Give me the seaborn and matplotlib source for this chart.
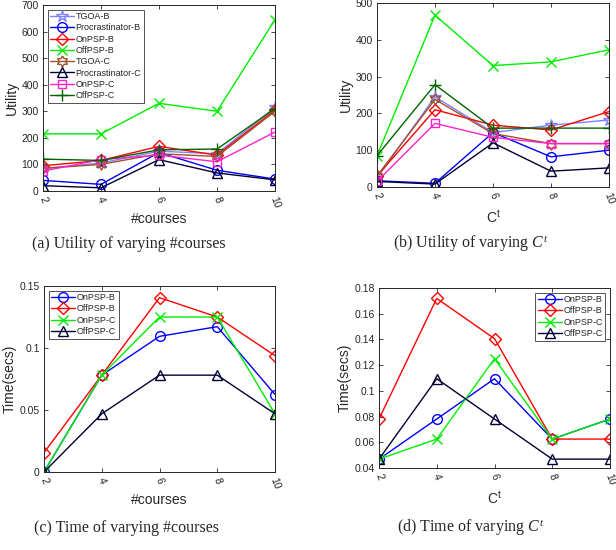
import matplotlib
matplotlib.use("Agg")
import matplotlib.pyplot as plt
from matplotlib.ticker import FixedLocator
import seaborn as sns

# x values
courses = [2, 4, 6, 8, 10]
ct_vals = [2, 4, 6, 8, 10]

# (a) utility vs #courses
util_a = {
    'TGOA-B': [85, 105, 150, 140, 315],
    'Procrastinator-B': [40, 25, 145, 78, 45],
    'OnPSP-B': [95, 115, 168, 135, 305],
    'OffPSP-B': [215, 215, 330, 300, 645],
    'TGOA-C': [85, 100, 140, 130, 300],
    'Procrastinator-C': [20, 12, 118, 68, 42],
    'OnPSP-C': [75, 118, 135, 110, 222],
    'OffPSP-C': [120, 115, 155, 158, 310],
}

# (b) utility vs C^t
util_b = {
    'TGOA-B': [25, 245, 148, 168, 182],
    'Procrastinator-B': [17, 10, 148, 82, 100],
    'OnPSP-B': [30, 210, 168, 155, 205],
    'OffPSP-B': [85, 467, 330, 340, 373],
    'TGOA-C': [30, 238, 145, 118, 118],
    'Procrastinator-C': [15, 8, 120, 43, 52],
    'OnPSP-C': [15, 173, 135, 118, 118],
    'OffPSP-C': [85, 278, 160, 160, 160],
}

# (c) time vs #courses
time_c = {
    'OnPSP-B': [0, 0.0781, 0.1094, 0.1172, 0.0625],
    'OffPSP-B': [0.0156, 0.0781, 0.1406, 0.125, 0.0938],
    'OnPSP-C': [0, 0.0781, 0.125, 0.125, 0.0469],
    'OffPSP-C': [0, 0.0469, 0.0781, 0.0781, 0.0469],
}

# (d) time vs C^t
time_d = {
    'OnPSP-B': [0.0469, 0.0781, 0.1094, 0.0625, 0.0781],
    'OffPSP-B': [0.0781, 0.1719, 0.1406, 0.0625, 0.0625],
    'OnPSP-C': [0.0469, 0.0625, 0.125, 0.0625, 0.0781],
    'OffPSP-C': [0.0469, 0.1094, 0.0781, 0.0469, 0.0469],
}

hexagram = [(0, 1), (0.29, 0.5), (0.87, 0.5), (0.58, 0), (0.87, -0.5), (0.29, -0.5),
            (0, -1), (-0.29, -0.5), (-0.87, -0.5), (-0.58, 0), (-0.87, 0.5), (-0.29, 0.5), (0, 1)]

styles_util = {
    'TGOA-B': ('#8080ff', '*', 9),
    'Procrastinator-B': ('#0000ff', 'o', 7),
    'OnPSP-B': ('#ff0000', 'D', 6),
    'OffPSP-B': ('#00ee00', 'x', 7),
    'TGOA-C': ('#a0522d', hexagram, 8),
    'Procrastinator-C': ('#000033', '^', 7),
    'OnPSP-C': ('#ff22cc', 's', 6),
    'OffPSP-C': ('#006400', '+', 9),
}
styles_time = {
    'OnPSP-B': ('#0000ff', 'o', 7),
    'OffPSP-B': ('#ff0000', 'D', 6),
    'OnPSP-C': ('#00ee00', 'x', 7),
    'OffPSP-C': ('#000033', '^', 7),
}

sns.set_style('ticks')
plt.rcParams['font.family'] = ['Liberation Sans', 'DejaVu Sans']
plt.rcParams['mathtext.fontset'] = 'custom'
plt.rcParams['mathtext.rm'] = 'Liberation Sans'
plt.rcParams['mathtext.it'] = 'Liberation Serif:italic'

axcol = '#262626'
fig = plt.figure(figsize=(6.16, 5.5), dpi=100)
W, H = 616, 550


def make_ax(left, top, right, bottom):
    return fig.add_axes([left / W, (H - bottom) / H, (right - left) / W, (bottom - top) / H])


def draw(ax, x, data, styles, ylim, yticks, ylabels, xlabel, ylabel, legend_loc):
    for name, vals in data.items():
        col, mk, ms = styles[name]
        sns.lineplot(x=x, y=vals, ax=ax, color=col, marker=mk, markersize=ms,
                     markerfacecolor='none', markeredgecolor=col, markeredgewidth=1.0,
                     linewidth=1.0, label=name)
    ax.set_xlim(2, 10)
    ax.set_ylim(*ylim)
    ax.xaxis.set_major_locator(FixedLocator(x))
    ax.set_xticklabels([str(v) for v in x], rotation=-70, ha='center')
    ax.set_yticks(yticks)
    ax.set_yticklabels(ylabels)
    ax.tick_params(direction='in', top=True, right=True, length=3, width=0.6,
                   labelsize=7.5, colors=axcol, pad=3)
    for s in ax.spines.values():
        s.set_color(axcol)
        s.set_linewidth(0.7)
    ax.set_xlabel(xlabel, fontsize=10, color=axcol, labelpad=2)
    ax.set_ylabel(ylabel, fontsize=10, color=axcol, labelpad=2)
    if legend_loc is None:
        ax.get_legend().remove()
    else:
        leg = ax.legend(loc=legend_loc, fontsize=6.5, frameon=True, fancybox=False,
                        handlelength=2.6, handletextpad=0.2, borderpad=0.3,
                        labelspacing=0.25, borderaxespad=0.5)
        leg.get_frame().set_edgecolor(axcol)
        leg.get_frame().set_linewidth(0.7)
        for t in leg.get_texts():
            t.set_color(axcol)


ax_a = make_ax(43, 5, 275, 191)
draw(ax_a, courses, util_a, styles_util, (0, 700), list(range(0, 701, 100)),
     [str(v) for v in range(0, 701, 100)], '#courses', 'Utility', 'upper left')

ax_b = make_ax(377, 3, 609, 187)
draw(ax_b, ct_vals, util_b, styles_util, (0, 500), list(range(0, 501, 100)),
     [str(v) for v in range(0, 501, 100)], r'C$^{\rm t}$', 'Utility', None)

ax_c = make_ax(44, 286, 275, 472)
draw(ax_c, courses, time_c, styles_time, (0, 0.15), [0, 0.05, 0.1, 0.15],
     ['0', '0.05', '0.1', '0.15'], '#courses', 'Time(secs)', 'upper left')

ax_d = make_ax(379, 288, 610, 468)
yt_d = [0.04, 0.06, 0.08, 0.1, 0.12, 0.14, 0.16, 0.18]
draw(ax_d, ct_vals, time_d, styles_time, (0.04, 0.18), yt_d,
     ['0.04', '0.06', '0.08', '0.1', '0.12', '0.14', '0.16', '0.18'],
     r'C$^{\rm t}$', 'Time(secs)', 'upper right')

cap = dict(fontsize=11.5, family=['Liberation Serif', 'DejaVu Serif'], ha='center', va='center')
fig.text(129 / W, 1 - 244 / H, '(a) Utility of varying #courses', **cap)
fig.text(471 / W, 1 - 244 / H, r'(b) Utility of varying $C^t$', **cap)
fig.text(127 / W, 1 - 528 / H, '(c) Time of varying #courses', **cap)
fig.text(471 / W, 1 - 528 / H, r'(d) Time of varying $C^t$', **cap)

fig.savefig('out.png', dpi=100)
